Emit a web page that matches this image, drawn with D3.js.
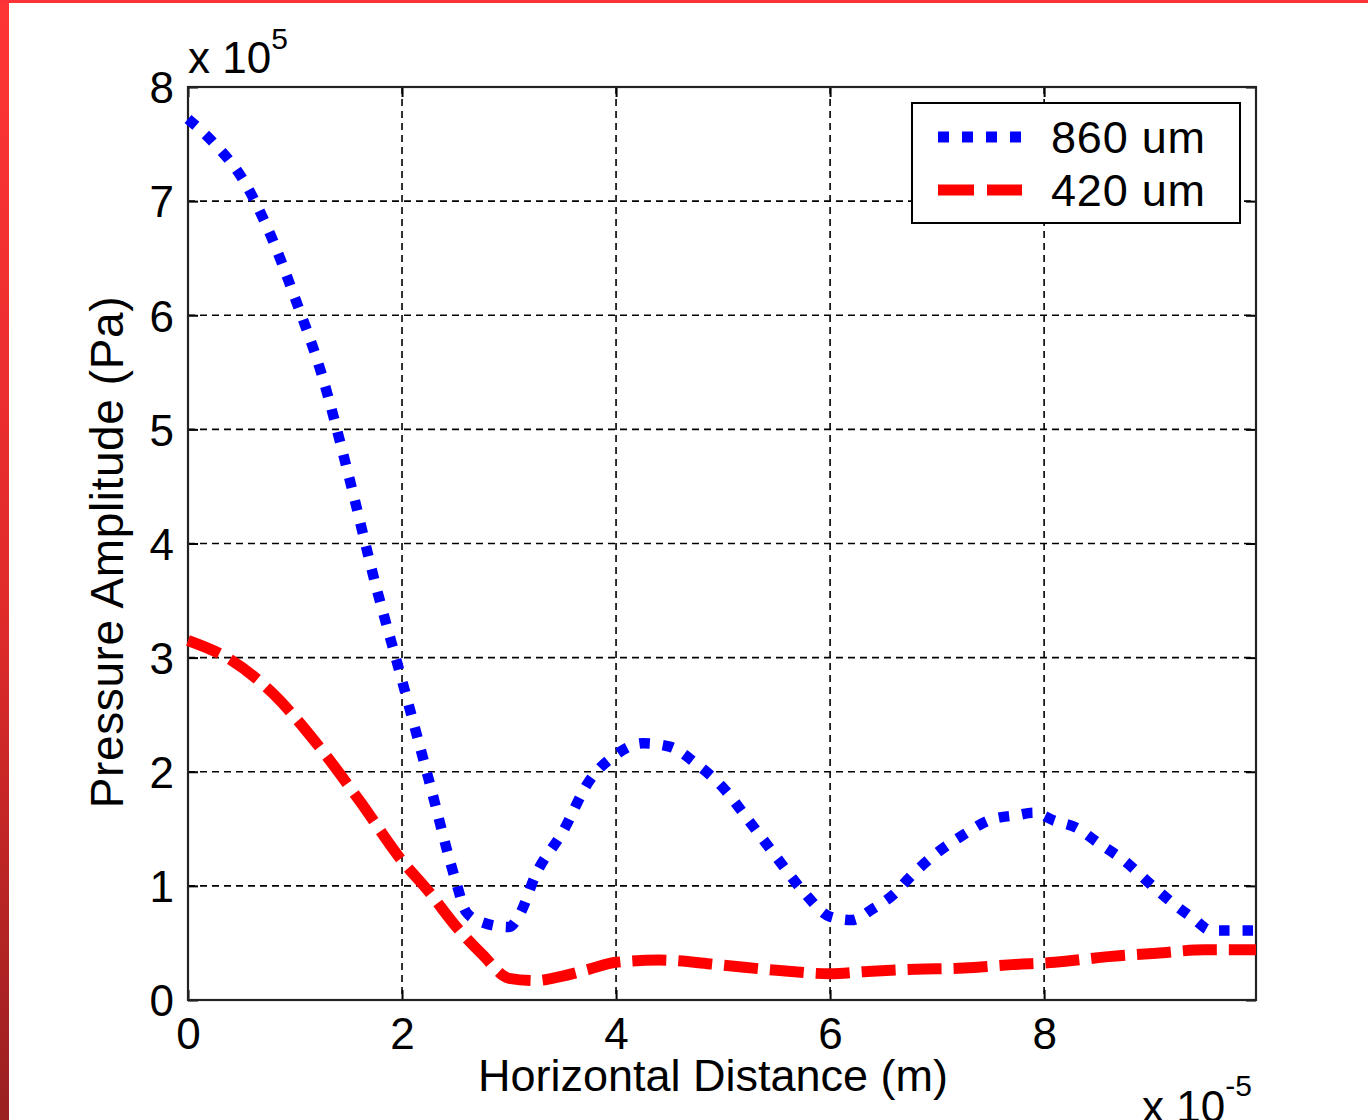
<!DOCTYPE html>
<html>
<head>
<meta charset="utf-8">
<script src="https://cdn.jsdelivr.net/npm/d3@7"></script>
<style>
  body { margin: 0; background: #fff; }
  svg { display: block; }
  text { font-family: Arial, "Liberation Sans", sans-serif; fill: #000; }
</style>
</head>
<body>
<svg id="chart"></svg>
<script>
// x in units of 1e-5 m, y in units of 1e5 Pa
const xTicks = [0, 2, 4, 6, 8];
const yTicks = [0, 1, 2, 3, 4, 5, 6, 7, 8];

const blueX = [0, 0.25, 0.5, 0.75, 1.0, 1.25, 1.5, 1.75, 2.0, 2.25, 2.5, 2.6, 2.75, 3.0, 3.1, 3.25, 3.5, 3.75, 4.0, 4.25, 4.5, 4.75, 5.0, 5.25, 5.5, 5.75, 6.0, 6.2, 6.4, 6.6, 6.75, 7.0, 7.25, 7.5, 7.75, 7.9, 8.1, 8.3, 8.5, 8.75, 9.0, 9.2, 9.4, 9.56, 9.98];
const blueY = [7.72, 7.50, 7.21, 6.75, 6.15, 5.48, 4.60, 3.65, 2.80, 1.93, 1.05, 0.77, 0.68, 0.64, 0.75, 1.10, 1.47, 1.92, 2.15, 2.25, 2.22, 2.07, 1.86, 1.56, 1.25, 0.95, 0.73, 0.70, 0.80, 0.93, 1.08, 1.29, 1.45, 1.58, 1.62, 1.64, 1.57, 1.51, 1.38, 1.22, 1.01, 0.85, 0.71, 0.61, 0.61];

const redX = [0, 0.4, 0.8, 1.2, 1.6, 2.0, 2.25, 2.5, 2.75, 3.0, 3.25, 3.5, 3.75, 4.0, 4.4, 4.95, 5.5, 6.0, 6.35, 6.8, 7.25, 7.7, 8.1, 8.6, 9.05, 9.5, 9.98];
const redY = [3.15, 2.98, 2.68, 2.25, 1.75, 1.22, 0.95, 0.65, 0.40, 0.19, 0.17, 0.21, 0.27, 0.33, 0.35, 0.31, 0.26, 0.23, 0.25, 0.27, 0.28, 0.31, 0.33, 0.38, 0.41, 0.44, 0.44];

const seriesNames = ["860 um", "420 um"];

const W = 1368, H = 1120;
const margin = { top: 87, right: 112, bottom: 120, left: 188 };
const width = W - margin.left - margin.right;
const height = H - margin.top - margin.bottom;

const svg = d3.select('#chart').attr('width', W).attr('height', H);

// red slide border
const defs = svg.append('defs');
const grad = defs.append('linearGradient').attr('id', 'edge')
    .attr('x1', 0).attr('y1', 0).attr('x2', 0).attr('y2', 1);
grad.append('stop').attr('offset', '0%').attr('stop-color', '#ff3535');
grad.append('stop').attr('offset', '55%').attr('stop-color', '#e02a2a');
grad.append('stop').attr('offset', '100%').attr('stop-color', '#9a2020');
svg.append('rect').attr('x', 0).attr('y', 0).attr('width', 9).attr('height', H).attr('fill', 'url(#edge)');
svg.append('rect').attr('x', 0).attr('y', 0).attr('width', W).attr('height', 3).attr('fill', '#fb3338');

const x = d3.scaleLinear().domain([0, 9.98]).range([0, width]);
const y = d3.scaleLinear().domain([0, 8]).range([height, 0]);

const g = svg.append('g').attr('transform', `translate(${margin.left},${margin.top})`);

// grid
g.append('g').selectAll('line').data(xTicks).join('line')
    .attr('x1', d => x(d)).attr('x2', d => x(d))
    .attr('y1', 0).attr('y2', height)
    .attr('stroke', '#000').attr('stroke-width', 1.6).attr('stroke-dasharray', '7,5');
g.append('g').selectAll('line').data(yTicks).join('line')
    .attr('x1', 0).attr('x2', width)
    .attr('y1', d => y(d)).attr('y2', d => y(d))
    .attr('stroke', '#000').attr('stroke-width', 1.6).attr('stroke-dasharray', '7,5');

// axes: inward ticks, labels outside
const xAxis = d3.axisBottom(x).tickValues(xTicks).tickSize(-10).tickPadding(18).tickFormat(d3.format('d'));
const yAxis = d3.axisLeft(y).tickValues(yTicks).tickSize(-10).tickPadding(14).tickFormat(d3.format('d'));
const xTop = d3.axisTop(x).tickValues(xTicks).tickSize(-10).tickFormat('');
const yRight = d3.axisRight(y).tickValues(yTicks).tickSize(-10).tickFormat('');

function styleAxis(sel) {
  sel.select('.domain').remove();
  sel.selectAll('.tick line').attr('stroke', '#000').attr('stroke-width', 2);
  sel.selectAll('.tick text').attr('font-size', 44).attr('fill', '#000')
      .style('font-family', 'Arial, "Liberation Sans", sans-serif');
}

g.append('g').attr('transform', `translate(0,${height})`).call(xAxis).call(styleAxis)
    .selectAll('.tick text').attr('dy', '0.71em');
g.append('g').call(yAxis).call(styleAxis)
    .selectAll('.tick text').attr('dy', '0.36em');
g.append('g').call(xTop).call(styleAxis);
g.append('g').attr('transform', `translate(${width},0)`).call(yRight).call(styleAxis);

// frame
g.append('rect').attr('x', 0).attr('y', 0).attr('width', width).attr('height', height)
    .attr('fill', 'none').attr('stroke', '#222').attr('stroke-width', 2.2);

// series
const lineGen = d3.line().x(d => x(d[0])).y(d => y(d[1])).curve(d3.curveMonotoneX);

g.append('path').datum(redX.map((v, i) => [v, redY[i]]))
    .attr('d', lineGen).attr('fill', 'none').attr('stroke', '#ff0000')
    .attr('stroke-width', 11).attr('stroke-dasharray', '34,12');

g.append('path').datum(blueX.map((v, i) => [v, blueY[i]]))
    .attr('d', lineGen).attr('fill', 'none').attr('stroke', '#0000ff')
    .attr('stroke-width', 10.5).attr('stroke-dasharray', '10.5,13');

// exponent labels
const expY = svg.append('text').attr('x', 188).attr('y', 73).attr('font-size', 44);
expY.append('tspan').text('x 10');
expY.append('tspan').attr('font-size', 30).attr('dy', -24).text('5');

const expX = svg.append('text').attr('x', 1142).attr('y', 1122).attr('font-size', 44);
expX.append('tspan').text('x 10');
expX.append('tspan').attr('font-size', 30).attr('dy', -26).text('-5');

// axis titles
svg.append('text').attr('x', 713).attr('y', 1091).attr('text-anchor', 'middle')
    .attr('font-size', 45).text('Horizontal Distance (m)');
svg.append('text').attr('transform', 'translate(123,552) rotate(-90)')
    .attr('text-anchor', 'middle').attr('font-size', 46).attr('letter-spacing', 0.6)
    .text('Pressure Amplitude (Pa)');

// legend
const leg = svg.append('g').attr('transform', 'translate(912,103)');
leg.append('rect').attr('width', 328).attr('height', 120)
    .attr('fill', '#fff').attr('stroke', '#000').attr('stroke-width', 2);
const legRows = [
  { name: seriesNames[0], color: '#0000ff', w: 11, dash: '11,13', cy: 34 },
  { name: seriesNames[1], color: '#ff0000', w: 11, dash: '36,13', cy: 87 }
];
legRows.forEach(r => {
  leg.append('line').attr('x1', 26).attr('x2', 110).attr('y1', r.cy).attr('y2', r.cy)
      .attr('stroke', r.color).attr('stroke-width', r.w).attr('stroke-dasharray', r.dash);
  leg.append('text').attr('x', 139).attr('y', r.cy + 16).attr('font-size', 45)
      .attr('letter-spacing', 0.8).text(r.name);
});
</script>
</body>
</html>
